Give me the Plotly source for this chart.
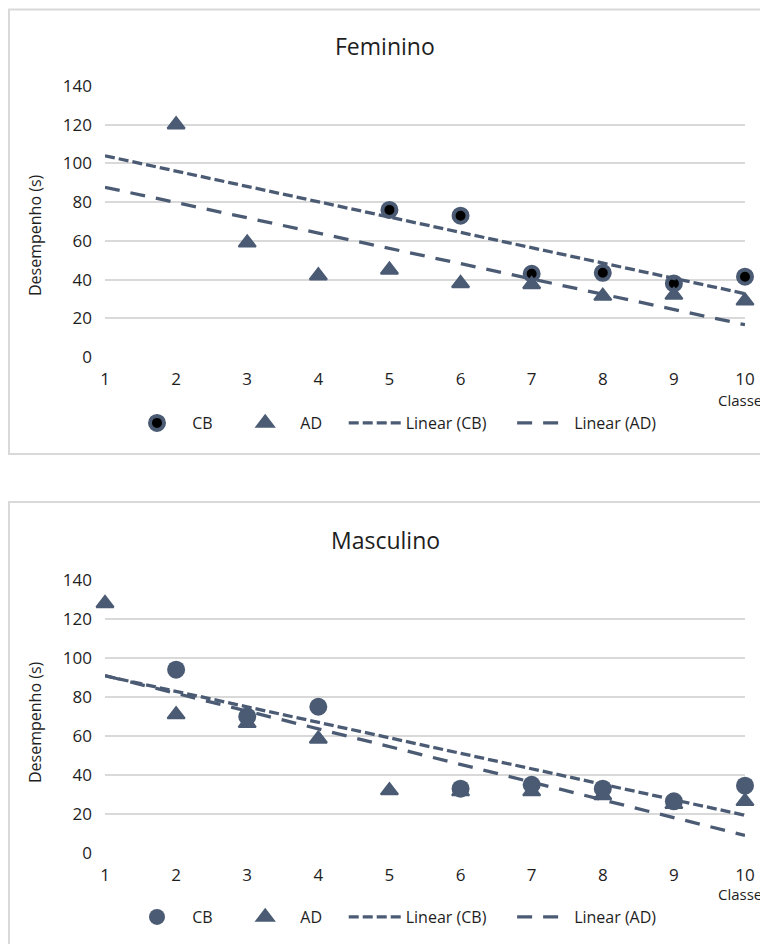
import numpy as np
import plotly.graph_objects as go

# ---------------- data ----------------
classes = [1, 2, 3, 4, 5, 6, 7, 8, 9, 10]
y_ticks = [0, 20, 40, 60, 80, 100, 120, 140]

fem_cb_x = [5, 6, 7, 8, 9, 10]
fem_cb_y = [76, 73, 43, 43.5, 38, 41.5]
fem_ad_x = [2, 3, 4, 5, 6, 7, 8, 9, 10]
fem_ad_y = [120, 59, 42, 45, 38, 37.5, 31.5, 32, 29]

masc_cb_x = [2, 3, 4, 6, 7, 8, 9, 10]
masc_cb_y = [94, 70, 75, 33, 35, 33, 26.5, 34.5]
masc_ad_x = [1, 2, 3, 4, 5, 6, 7, 8, 9, 10]
masc_ad_y = [128, 71, 66.5, 58.5, 32, 31.5, 31.5, 29.5, 25, 26.5]

# page body has an 8px margin, so the figure is drawn 8px in from the window edge
OFF = 8
W, H = 768 - OFF, 944 - OFF
SLATE = "#4B5B74"
GRID = "#D9D9D9"
TXT = "#1E1E1E"
FONT = "Open Sans"
NB = "\u00a0"


def px(x):
    return (x - OFF) / W


def py(y):
    return 1 - (y - OFF) / H


def trend(xs, ys):
    k, b = np.polyfit(xs, ys, 1)
    xx = np.array([classes[0], classes[-1]], dtype=float)
    return xx, k * xx + b


fig = go.Figure()

panels = [
    dict(cbx=fem_cb_x, cby=fem_cb_y, adx=fem_ad_x, ady=fem_ad_y,
         xa="x", ya="y", leg="legend", ring=True),
    dict(cbx=masc_cb_x, cby=masc_cb_y, adx=masc_ad_x, ady=masc_ad_y,
         xa="x2", ya="y2", leg="legend2", ring=False),
]

for p in panels:
    if p["ring"]:
        cb_marker = dict(symbol="circle", size=14, color="#000000",
                         line=dict(color=SLATE, width=4))
    else:
        cb_marker = dict(symbol="circle", size=18, color=SLATE, line=dict(width=0))
    fig.add_trace(go.Scatter(
        x=p["cbx"], y=p["cby"], mode="markers", name=NB + "CB" + NB * 4,
        marker=cb_marker, xaxis=p["xa"], yaxis=p["ya"], legend=p["leg"],
        cliponaxis=False))
    fig.add_trace(go.Scatter(
        x=p["adx"], y=p["ady"], mode="markers", name=NB + "AD" + NB * 4,
        marker=dict(symbol="triangle-up", size=15, color=SLATE,
                    line=dict(color=SLATE, width=2)),
        xaxis=p["xa"], yaxis=p["ya"], legend=p["leg"], cliponaxis=False))
    tx, ty = trend(p["cbx"], p["cby"])
    fig.add_trace(go.Scatter(
        x=tx, y=ty, mode="lines", name="Linear (CB)" + NB * 5,
        line=dict(color=SLATE, width=3.3, dash="10px,4px"),
        xaxis=p["xa"], yaxis=p["ya"], legend=p["leg"]))
    tx, ty = trend(p["adx"], p["ady"])
    fig.add_trace(go.Scatter(
        x=tx, y=ty, mode="lines", name="Linear (AD)",
        line=dict(color=SLATE, width=3.3, dash="15px,11px"),
        xaxis=p["xa"], yaxis=p["ya"], legend=p["leg"]))

yax = dict(range=[0, 140], tickvals=y_ticks, showgrid=True, gridcolor=GRID, gridwidth=1.5,
           zeroline=False, showline=False, ticks="", ticklabelstandoff=12, automargin=False,
           tickfont=dict(family=FONT, size=17, color=TXT))
xax = dict(range=[1, 10], tickvals=classes, showgrid=False, zeroline=False, showline=False,
           ticks="", ticklabelstandoff=10, automargin=False,
           tickfont=dict(family=FONT, size=17, color=TXT))


def ann(text, x, y, size, angle=0):
    return dict(text=text, x=px(x), y=py(y), xref="paper", yref="paper", showarrow=False,
                xanchor="center", yanchor="middle", textangle=angle,
                font=dict(family=FONT, size=size, color=TXT))


fig.update_layout(
    width=W, height=H, margin=dict(l=0, r=0, t=0, b=0, pad=0, autoexpand=False),
    paper_bgcolor="white", plot_bgcolor="white",
    showlegend=True,
    xaxis=dict(xax, domain=[px(105), px(745)], anchor="y"),
    yaxis=dict(yax, domain=[py(357), py(86)], anchor="x"),
    xaxis2=dict(xax, domain=[px(105), px(745)], anchor="y2"),
    yaxis2=dict(yax, domain=[py(853), py(580)], anchor="x2"),
    legend=dict(orientation="h", x=px(126), xanchor="left", y=py(423), yanchor="middle",
                itemwidth=52, font=dict(family=FONT, size=16, color=TXT),
                bgcolor="rgba(0,0,0,0)", traceorder="normal"),
    legend2=dict(orientation="h", x=px(126), xanchor="left", y=py(917), yanchor="middle",
                 itemwidth=52, font=dict(family=FONT, size=16, color=TXT),
                 bgcolor="rgba(0,0,0,0)", traceorder="normal"),
    shapes=[
        dict(type="rect", xref="paper", yref="paper", x0=px(9), x1=px(790), y0=py(454), y1=py(9.5),
             line=dict(color=GRID, width=2), layer="below"),
        dict(type="rect", xref="paper", yref="paper", x0=px(9), x1=px(790), y0=py(990), y1=py(502),
             line=dict(color=GRID, width=2), layer="below"),
    ],
    annotations=[
        ann("Feminino", 385, 46, 23),
        ann("Masculino", 385, 540, 23),
        ann("Desempenho (s)", 35, 235, 16, -90),
        ann("Desempenho (s)", 35, 722, 16, -90),
        ann("Classe", 740, 400, 15),
        ann("Classe", 740, 894, 15),
    ],
)

fig.write_html("out.html")
